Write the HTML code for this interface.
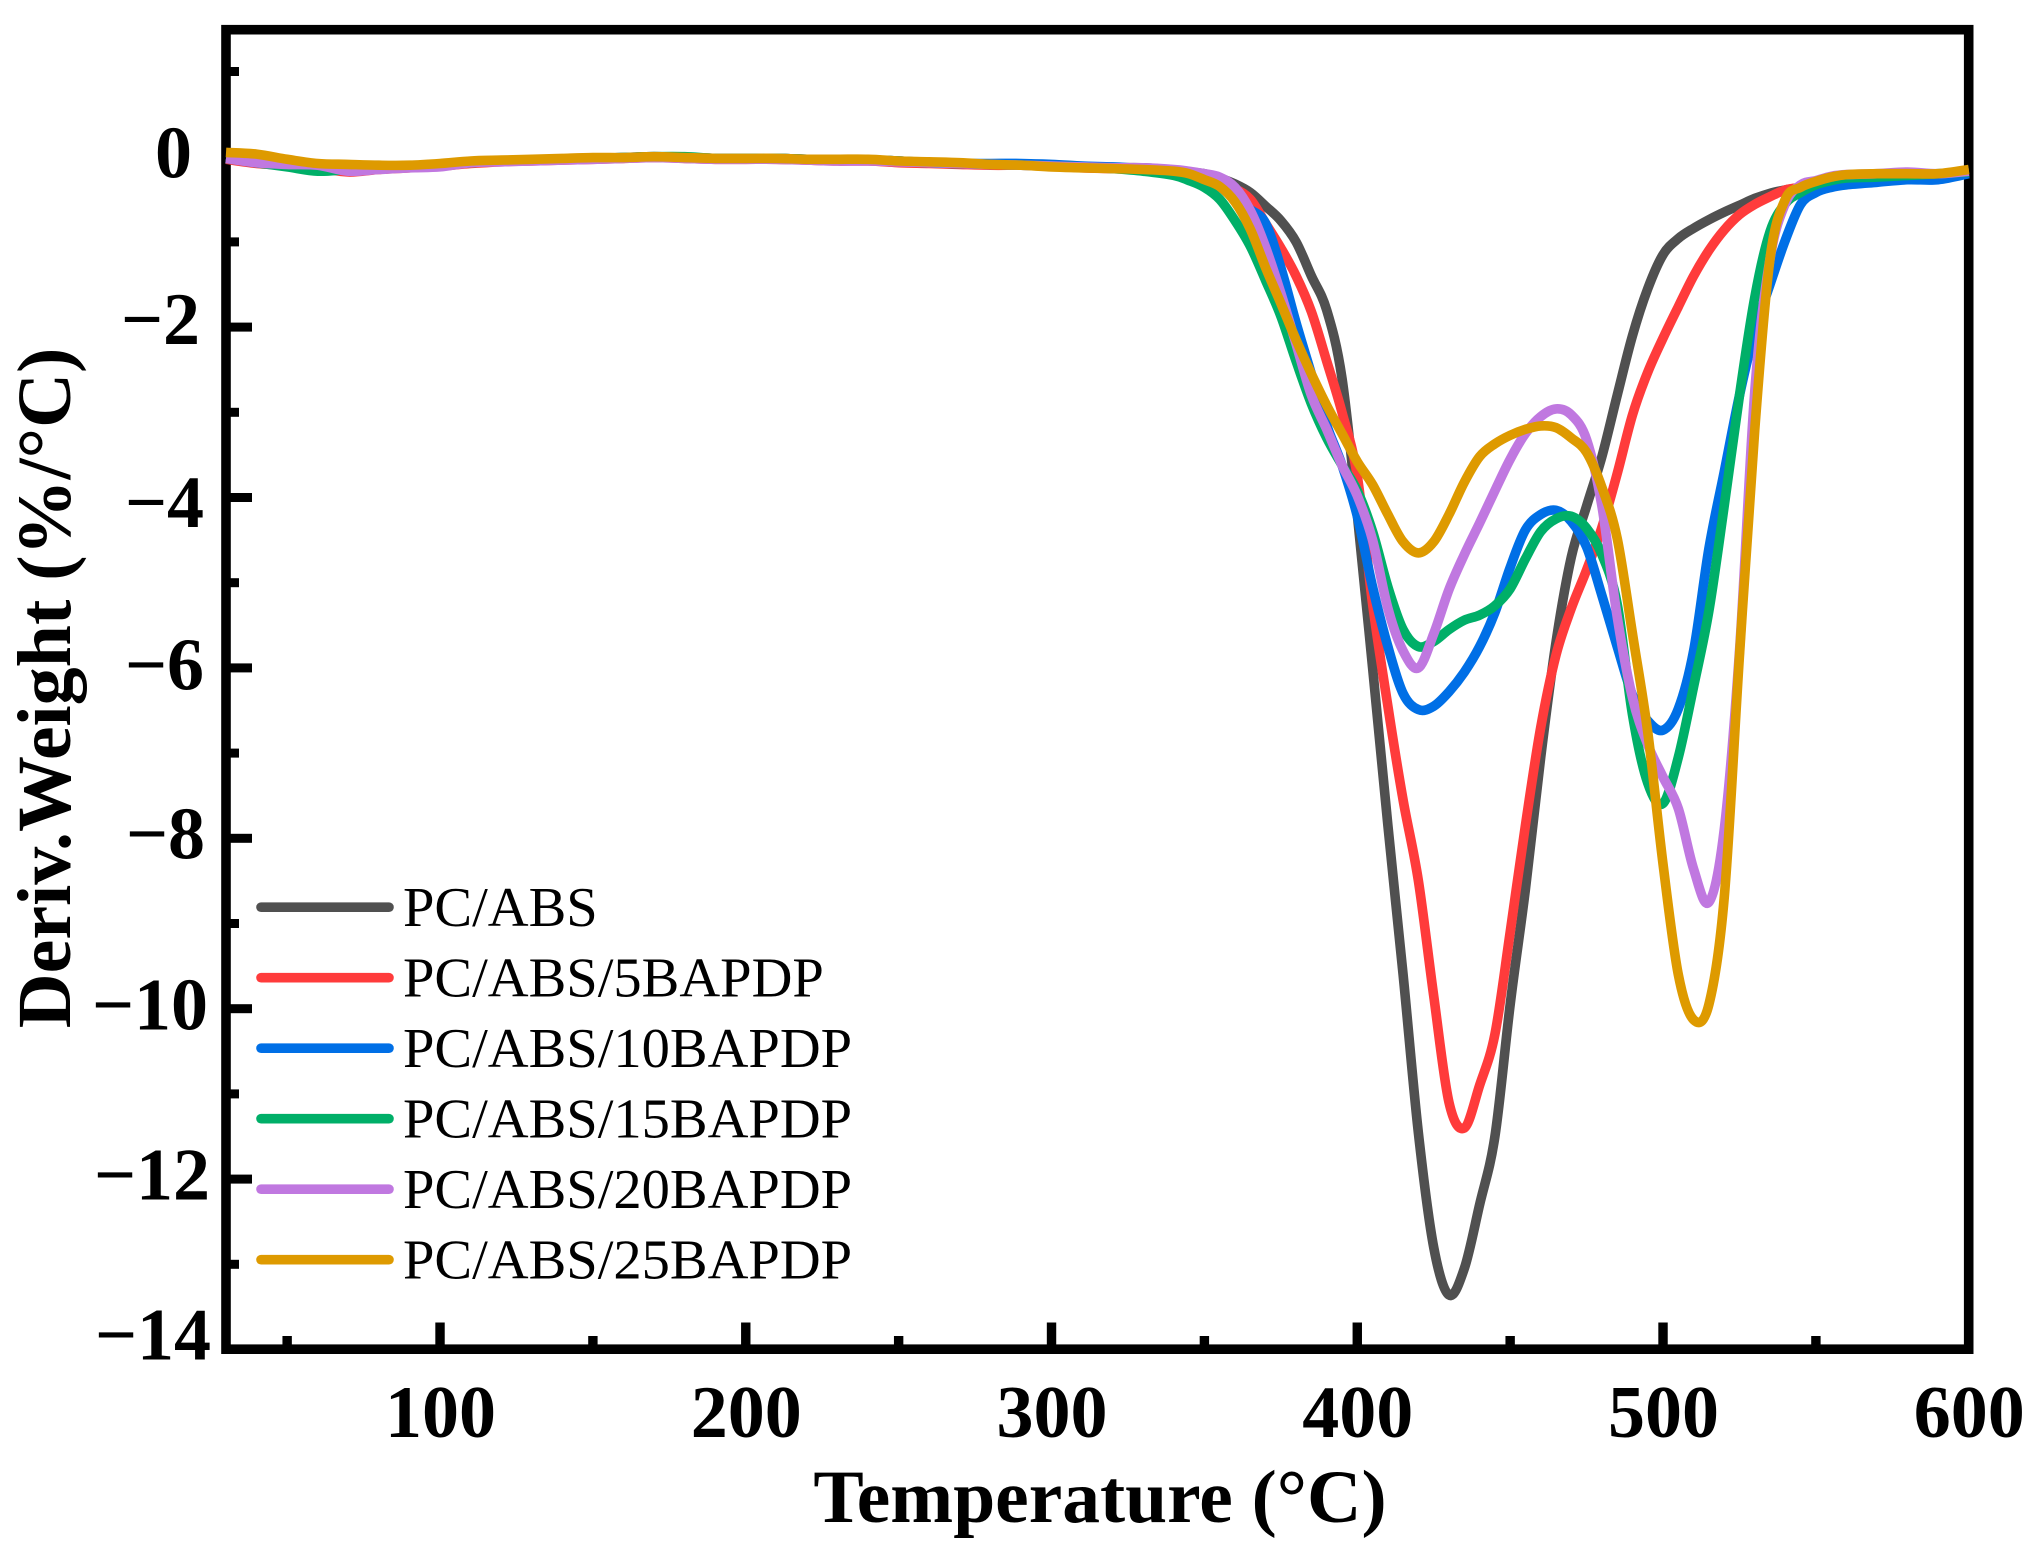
<!DOCTYPE html>
<html lang="en">
<head>
<meta charset="utf-8">
<title>Derivative weight vs temperature</title>
<style>
html,body{margin:0;padding:0;background:#fff;}
svg{display:block;}
text{font-family:"Liberation Serif",serif;fill:#000;}
.bold{font-weight:bold;font-size:74px;}
.title{font-weight:bold;font-size:75.5px;}
.ytitle{font-weight:bold;font-size:76px;}
.leg{font-size:56.5px;}
</style>
</head>
<body>
<svg id="chart" xmlns="http://www.w3.org/2000/svg" width="2040" height="1552" viewBox="0 0 2040 1552">
<rect x="0" y="0" width="2040" height="1552" fill="#fff"/>
<g id="ticks"></g>
<rect x="226" y="29.7" width="1742.7" height="1319.5" fill="none" stroke="#000" stroke-width="9.6"/>
<g id="labels"></g>
<text class="title" x="1100" y="1522" text-anchor="middle">Temperature (°C)</text>
<text class="ytitle" text-anchor="middle" transform="translate(70 688) rotate(-90)">Deriv.Weight (%/°C)</text>
<g id="series" fill="none" stroke-linejoin="round"></g>
<g id="legend"></g>
</svg>
<script>
const temps = [30,40,50,60,70,80,90,100,110,120,130,140,150,160,170,180,190,200,210,220,230,240,250,260,270,280,290,300,310,320,330,340,
345,350,355,360,365,370,375,380,385,390,395,400,405,410,415,420,425,430,435,440,445,450,455,460,465,470,475,480,485,490,495,500,505,510,515,520,525,530,535,540,545,550,555,560,570,580,590,600];

const pcAbs = [-.02,-.06,-.09,-.12,-.14,-.13,-.12,-.1,-.07,-.05,-.04,-.03,-.02,-.01,0,-.01,-.02,-.02,-.02,-.03,-.04,-.04,-.05,-.07,-.08,-.09,-.09,-.1,-.12,-.13,-.13,-.16,
-.18,-.2,-.25,-.32,-.42,-.58,-.75,-1.0,-1.4,-1.8,-2.6,-4.2,-6.0,-7.85,-9.6,-11.46,-12.8,-13.36,-13.05,-12.3,-11.5,-9.95,-8.6,-7.05,-5.7,-4.7,-4.1,-3.52,-2.8,-2.1,-1.55,-1.15,-.96,-.84,-.74,-.65,-.57,-.49,-.43,-.39,-.36,-.33,-.3,-.28,-.27,-.25,-.22,-.18];
const pc5 = [-.03,-.08,-.1,-.13,-.18,-.15,-.13,-.11,-.08,-.06,-.05,-.04,-.03,-.02,-.01,-.02,-.03,-.03,-.03,-.04,-.05,-.05,-.07,-.08,-.09,-.1,-.1,-.11,-.13,-.14,-.15,-.18,
-.22,-.28,-.36,-.38,-.5,-.78,-1.07,-1.4,-1.82,-2.4,-3.0,-3.75,-5.25,-6.45,-7.55,-8.5,-9.85,-11.1,-11.4,-10.9,-10.3,-9.1,-7.85,-6.7,-5.85,-5.3,-4.85,-4.35,-3.72,-3.03,-2.53,-2.13,-1.76,-1.4,-1.1,-.86,-.68,-.56,-.47,-.39,-.36,-.33,-.3,-.28,-.27,-.25,-.22,-.18];
const pc10 = [-.02,-.07,-.1,-.12,-.14,-.13,-.12,-.1,-.07,-.05,-.04,-.03,-.02,-.01,0,-.01,-.02,-.02,-.02,-.03,-.04,-.04,-.05,-.07,-.08,-.08,-.08,-.09,-.11,-.12,-.14,-.17,
-.2,-.25,-.35,-.5,-.62,-.78,-1.3,-1.95,-2.55,-3.15,-3.62,-4.22,-5.05,-5.75,-6.3,-6.49,-6.45,-6.28,-6.05,-5.75,-5.35,-4.82,-4.38,-4.2,-4.15,-4.28,-4.58,-5.15,-5.75,-6.32,-6.62,-6.73,-6.48,-5.8,-4.6,-3.7,-2.8,-2.05,-1.5,-.98,-.56,-.42,-.36,-.33,-.3,-.27,-.27,-.2];
const pc15 = [-.02,-.07,-.12,-.17,-.15,-.13,-.12,-.1,-.07,-.05,-.04,-.03,-.02,-.01,0,0,-.02,-.02,-.02,-.03,-.04,-.04,-.05,-.07,-.08,-.09,-.1,-.11,-.12,-.14,-.17,-.22,
-.28,-.36,-.5,-.75,-1.05,-1.45,-1.87,-2.4,-2.9,-3.3,-3.62,-3.92,-4.4,-5.05,-5.55,-5.75,-5.69,-5.55,-5.44,-5.38,-5.27,-5.07,-4.72,-4.4,-4.25,-4.22,-4.36,-4.67,-5.25,-6.55,-7.35,-7.59,-7.05,-6.22,-5.33,-4.1,-2.8,-1.65,-.88,-.55,-.42,-.33,-.28,-.25,-.24,-.22,-.2,-.18];
const pc20 = [-.02,-.07,-.09,-.1,-.17,-.15,-.13,-.12,-.07,-.06,-.05,-.04,-.03,-.02,-.01,-.02,-.03,-.03,-.03,-.04,-.05,-.05,-.06,-.07,-.08,-.09,-.1,-.11,-.12,-.13,-.13,-.15,
-.17,-.2,-.24,-.36,-.63,-1.06,-1.6,-2.2,-2.8,-3.2,-3.62,-3.98,-4.5,-5.3,-5.8,-6.0,-5.6,-5.08,-4.67,-4.3,-3.92,-3.55,-3.25,-3.05,-2.96,-3.03,-3.32,-4.1,-5.4,-6.35,-6.9,-7.28,-7.65,-8.36,-8.75,-7.9,-5.8,-2.75,-1.2,-.55,-.33,-.28,-.23,-.21,-.2,-.18,-.2,-.17];
const pc25 = [.05,.03,-.03,-.08,-.09,-.1,-.1,-.08,-.05,-.04,-.03,-.02,-.01,-.01,0,-.01,-.02,-.02,-.02,-.03,-.03,-.03,-.05,-.06,-.07,-.09,-.1,-.12,-.13,-.14,-.15,-.17,
-.2,-.27,-.35,-.53,-.85,-1.3,-1.72,-2.15,-2.55,-2.92,-3.25,-3.58,-3.85,-4.2,-4.52,-4.65,-4.52,-4.2,-3.82,-3.52,-3.37,-3.27,-3.2,-3.16,-3.18,-3.3,-3.47,-3.88,-4.48,-5.6,-6.75,-8.3,-9.6,-10.13,-9.95,-8.7,-5.85,-3.2,-1.2,-.5,-.36,-.29,-.24,-.21,-.2,-.2,-.2,-.15];

const seriesNames = ["PC/ABS","PC/ABS/5BAPDP","PC/ABS/10BAPDP","PC/ABS/15BAPDP","PC/ABS/20BAPDP","PC/ABS/25BAPDP"];
const xTickLabels = [100,200,300,400,500,600];
const xMinorTicks = [50,150,250,350,450,550];
const yTickLabels = [0,-2,-4,-6,-8,-10,-12,-14];
const yMinorTicks = [1,-1,-3,-5,-7,-9,-11,-13];

const colors = ["#505050","#FF3B3B","#006FE6","#00AF68","#C078E0","#DE9A00"];
const allSeries = [pcAbs,pc5,pc10,pc15,pc20,pc25];
const NS = "http://www.w3.org/2000/svg";

function xScale(t){ return 226 + (t - 30) * 3.0575; }
function yScale(v){ return 156.7 - v * 85.2; }
function mk(tag, attrs, parent){
  const el = document.createElementNS(NS, tag);
  for (const k in attrs) el.setAttribute(k, attrs[k]);
  parent.appendChild(el);
  return el;
}
function smoothPath(xs, ys){
  const p = xs.map((t,i)=>[xScale(t), yScale(ys[i])]);
  let d = "M" + p[0][0].toFixed(1) + " " + p[0][1].toFixed(1);
  for (let i = 0; i < p.length - 1; i++){
    const a = p[Math.max(i-1,0)], b = p[i], c = p[i+1], e = p[Math.min(i+2,p.length-1)];
    const c1x = b[0] + (c[0]-a[0])/6, c1y = b[1] + (c[1]-a[1])/6;
    const c2x = c[0] - (e[0]-b[0])/6, c2y = c[1] - (e[1]-b[1])/6;
    d += "C" + c1x.toFixed(1) + " " + c1y.toFixed(1) + " " + c2x.toFixed(1) + " " + c2y.toFixed(1) + " " + c[0].toFixed(1) + " " + c[1].toFixed(1);
  }
  return d;
}
// Hand-adjusted label placement of the original figure (right edge, vertical shift)
function yLabelRight(v){ return ({"0":192,"-2":200,"-4":204,"-6":204,"-8":205,"-10":208,"-12":210,"-14":211})[v]; }
function yLabelShift(v){ return ({"0":21,"-2":17,"-4":29.5,"-6":21.5,"-8":20,"-10":21,"-12":20.5,"-14":10})[v]; }

const tickG = document.getElementById("ticks");
xTickLabels.forEach(function(t){
  if (t >= 600) return;
  const el = mk("rect",{x:xScale(t)-4.7,y:1322.5,width:9.4,height:24,fill:"#000"},tickG);
  
  
});
xMinorTicks.forEach(function(t){
  const el = mk("rect",{x:xScale(t)-4.7,y:1336,width:9.4,height:10,fill:"#000"},tickG);
  
  
});
yTickLabels.forEach(function(v){
  if (v <= -14) return;
  const el = mk("rect",{x:228,y:yScale(v)-4.5,width:24,height:9,fill:"#000"},tickG);
  
  
});
yMinorTicks.forEach(function(v){
  const el = mk("rect",{x:228,y:yScale(v)-4.5,width:11,height:9,fill:"#000"},tickG);
  
  
});

const labelG = document.getElementById("labels");
xTickLabels.forEach(function(t){
  const el = mk("text",{x:xScale(t)+0.5,y:1437,"text-anchor":"middle","class":"bold"},labelG);
  
  
  el.textContent = String(t);
});
yTickLabels.forEach(function(v){
  const el = mk("text",{x:yLabelRight(v),y:yScale(v)+yLabelShift(v),"text-anchor":"end","class":"bold"},labelG);
  
  
  el.textContent = v < 0 ? "\u2212" + Math.abs(v) : String(v);
});

const seriesG = document.getElementById("series");
allSeries.forEach(function(vals,i){
  const el = mk("path",{d:smoothPath(temps,vals),stroke:colors[i],"stroke-width":9.6},seriesG);
  
  
});

const legendG = document.getElementById("legend");
seriesNames.forEach(function(name,i){
  const cy = 907.2 + i * 70.5;
  const ln = mk("line",{x1:261,x2:389,y1:cy,y2:cy,stroke:colors[i],"stroke-width":9.6,"stroke-linecap":"round"},legendG);
  
  
  const tx = mk("text",{x:403,y:cy+19,"class":"leg"},legendG);
  
  
  tx.textContent = name;
});
</script>
</body>
</html>
